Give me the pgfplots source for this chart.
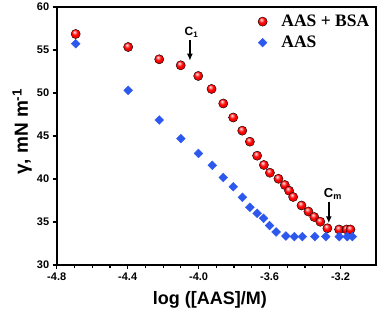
\documentclass[border=0pt]{standalone}
\usepackage{fontspec}
\setmainfont{Liberation Serif}
\newfontfamily\arial{Liberation Sans}
\usepackage{pgfplots}
\pgfplotsset{compat=1.18}
\usetikzlibrary{arrows.meta}
\definecolor{dblue}{RGB}{45,88,238}
\makeatletter
\pgfdeclareradialshading[tikz@ball]{ball}{\pgfqpoint{-8bp}{12bp}}{%
  color(0bp)=(tikz@ball!5!white);
  color(7bp)=(tikz@ball!50!white);
  color(15bp)=(tikz@ball);
  color(30bp)=(tikz@ball!92!black);
  color(50bp)=(tikz@ball!55!black)}
\makeatother
\begin{document}
\begin{tikzpicture}
\useasboundingbox (-56.7pt,-47pt) rectangle (321.3pt,265pt);
\begin{axis}[
  at={(0,0)}, anchor=south west,
  scale only axis, width=319.3pt, height=258pt,
  xmin=-4.8, xmax=-3.0, ymin=30, ymax=60,
  xtick={-4.8,-4.4,-4.0,-3.6,-3.2},
  ytick={30,35,40,45,50,55,60},
  minor x tick num=3,
  tick pos=left, tick align=outside,
  major tick length=4pt, minor tick length=3pt,
  every tick/.style={line width=1.2pt, black},
  axis line style={line width=1.8pt},
  /pgf/number format/assume math mode=true,
  xticklabel style={/pgf/number format/.cd, fixed, fixed zerofill, precision=1},
  ticklabel style={font=\arial\bfseries\fontsize{11}{13}\selectfont},
  xlabel={log ([AAS]/M)},
  ylabel={γ, mN m\textsuperscript{-1}},
  xlabel style={font=\arial\bfseries\fontsize{18}{20}\selectfont, at={(axis description cs:0.48,0)}, anchor=base, yshift=-40pt},
  ylabel style={font=\arial\bfseries\fontsize{19}{21}\selectfont, at={(axis description cs:0,0.516)}, anchor=base, yshift=28.7pt},
  legend style={draw=none, fill=none, at={(axis description cs:0.995,0.985)}, anchor=north east,
    font=\bfseries\fontsize{17.5}{19}\selectfont, row sep=4pt,
    /tikz/every odd column/.append style={column sep=12pt}},
  legend cell align=left,
  clip=false,
]
\addplot[only marks, mark=ball, mark size=4.6pt, mark options={ball color=red}] coordinates {
(-4.693,56.86) (-4.397,55.35) (-4.222,53.92) (-4.101,53.22) (-4.002,51.98)
(-3.927,50.47) (-3.861,48.78) (-3.805,47.15) (-3.754,45.62) (-3.711,44.34)
(-3.670,42.71) (-3.632,41.63) (-3.598,40.73) (-3.550,40.03) (-3.514,39.30)
(-3.490,38.64) (-3.467,37.91) (-3.420,36.92) (-3.381,36.22) (-3.348,35.58)
(-3.314,35.03) (-3.274,34.27) (-3.208,34.13) (-3.165,34.13) (-3.144,34.13)
};
\addlegendentry{AAS + BSA}
\addplot[only marks, mark=square*, mark size=3.1pt, color=dblue, mark options={rotate=45}] coordinates {
(-4.693,55.73) (-4.397,50.31) (-4.222,46.86) (-4.100,44.69) (-4.001,42.97)
(-3.923,41.59) (-3.861,40.17) (-3.805,39.10) (-3.753,37.87) (-3.711,36.71)
(-3.670,36.01) (-3.634,35.43) (-3.600,34.59) (-3.563,33.84) (-3.508,33.37)
(-3.460,33.30) (-3.415,33.30) (-3.345,33.30) (-3.283,33.30) (-3.207,33.30)
(-3.162,33.30) (-3.133,33.30)
};
\addlegendentry{AAS}
\draw[-{Latex[length=7pt,width=6pt]}, line width=1.4pt] (axis cs:-4.049,56.16) -- (axis cs:-4.049,53.75);
\node[anchor=south, inner sep=1pt, font=\arial\bfseries\fontsize{12}{14}\selectfont] at (axis cs:-4.040,56.3) {C\textsubscript{1}};
\draw[-{Latex[length=7pt,width=6pt]}, line width=1.4pt] (axis cs:-3.266,37.33) -- (axis cs:-3.266,34.85);
\node[anchor=south, inner sep=1pt, font=\arial\bfseries\fontsize{13}{15}\selectfont] at (axis cs:-3.243,37.45) {C\textsubscript{m}};
\end{axis}
\end{tikzpicture}
\end{document}
